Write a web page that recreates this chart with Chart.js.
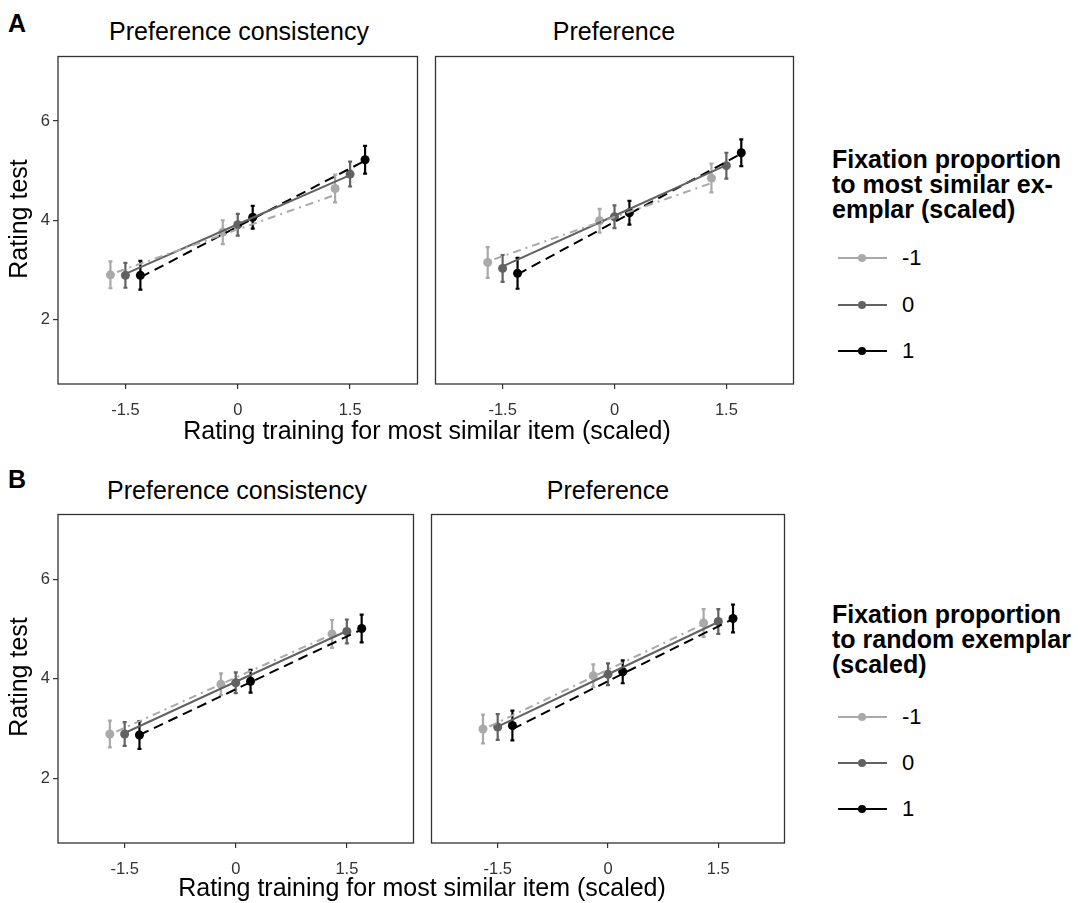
<!DOCTYPE html>
<html>
<head>
<meta charset="utf-8">
<script src="https://cdn.jsdelivr.net/npm/chart.js@4/dist/chart.umd.min.js"></script>
<style>
  body { margin: 0; background: #fff; width: 1080px; height: 903px; position: relative; overflow: hidden;
         font-family: "Liberation Sans", Arial, sans-serif; color: #000; }
  canvas { position: absolute; }
  .t { position: absolute; white-space: nowrap; line-height: 1; }
  .c { transform: translate(-50%, -50%); }
  .tag { font-weight: bold; font-size: 25px; }
  .facet { font-size: 25px; }
  .axis { font-size: 25px; }
  .ytitle { transform: translate(-50%, -50%) rotate(-90deg); }
  .ltitle { font-weight: bold; font-size: 25px; line-height: 25px; }
  .lab { font-size: 22px; transform: translateY(-50%); }
  .key { position: absolute; width: 49px; height: 2px; transform: translateY(-50%); }
  .dot { position: absolute; width: 8px; height: 8px; border-radius: 50%; transform: translate(-50%, -50%); }
</style>
</head>
<body>
<script>
// groups of the fixation variable
const groups = ["-1", "0", "1"];
const groupColors = ["#a9a9a9", "#626262", "#000000"];
const groupDash = [[2, 5, 8, 5], [], [10, 6]];
const xTicks = [-1.5, 0, 1.5];
const yTicks = [2, 4, 6];
const dodgeWidth = 0.2;

// A: most similar exemplar, preference consistency
const aConsMean = [[2.90, 3.76, 4.64], [2.89, 3.91, 4.93], [2.89, 4.06, 5.22]];
const aConsSE   = [[0.27, 0.24, 0.28], [0.25, 0.22, 0.25], [0.29, 0.23, 0.28]];
const aConsFit  = [[2.91, 3.71, 4.51], [2.92, 3.92, 4.91], [2.85, 4.03, 5.20]];
// A: most similar exemplar, preference
const aPrefMean = [[3.15, 3.99, 4.85], [3.03, 4.07, 5.10], [2.93, 4.15, 5.36]];
const aPrefSE   = [[0.31, 0.24, 0.29], [0.27, 0.23, 0.26], [0.31, 0.24, 0.27]];
const aPrefFit  = [[3.17, 3.96, 4.75], [3.07, 4.09, 5.11], [2.91, 4.13, 5.34]];
// B: random exemplar, preference consistency
const bConsMean = [[2.89, 3.89, 4.90], [2.89, 3.92, 4.95], [2.87, 3.95, 5.01]];
const bConsSE   = [[0.27, 0.22, 0.28], [0.24, 0.21, 0.24], [0.28, 0.23, 0.28]];
const bConsFit  = [[2.88, 3.89, 4.89], [2.91, 3.94, 4.96], [2.87, 3.93, 4.99]];
// B: random exemplar, preference
const bPrefMean = [[2.99, 4.06, 5.12], [3.03, 4.09, 5.15], [3.06, 4.14, 5.21]];
const bPrefSE   = [[0.29, 0.23, 0.28], [0.26, 0.22, 0.25], [0.30, 0.23, 0.28]];
const bPrefFit  = [[2.98, 4.04, 5.10], [3.04, 4.09, 5.14], [2.99, 4.10, 5.20]];

const facetTitles = ["Preference consistency", "Preference"];
const legendTitles = [
  ["Fixation proportion", "to most similar ex-", "emplar (scaled)"],
  ["Fixation proportion", "to random exemplar", "(scaled)"]
];
const xTitle = "Rating training for most similar item (scaled)";
const yTitle = "Rating test";

const FONT = "'Liberation Sans', Arial, sans-serif";

// error bars under the points, and the panel border
const panelExtras = {
  id: "panelExtras",
  beforeDatasetsDraw(chart) {
    const { ctx, scales: { x, y } } = chart;
    ctx.save();
    chart.data.datasets.forEach(ds => {
      if (!ds.se) return;
      ctx.strokeStyle = ds.backgroundColor;
      ctx.lineWidth = 2.2;
      ds.data.forEach((pt, i) => {
        const px = x.getPixelForValue(pt.x);
        const top = y.getPixelForValue(pt.y + ds.se[i]);
        const bot = y.getPixelForValue(pt.y - ds.se[i]);
        ctx.beginPath();
        ctx.moveTo(px, top); ctx.lineTo(px, bot);
        ctx.moveTo(px - 2, top); ctx.lineTo(px + 2, top);
        ctx.moveTo(px - 2, bot); ctx.lineTo(px + 2, bot);
        ctx.stroke();
      });
    });
    ctx.restore();
  },
  afterDraw(chart) {
    const { ctx, chartArea: a } = chart;
    ctx.save();
    ctx.strokeStyle = "#333333";
    ctx.lineWidth = 1.3;
    ctx.strokeRect(a.left, a.top, a.right - a.left, a.bottom - a.top);
    ctx.restore();
  }
};

function makePanel(box, showY, mean, se, fit) {
  const pad = 2, yW = showY ? 52 : 0, xH = 40;
  const w = box[2] - box[0], h = box[3] - box[1];
  const cv = document.createElement("canvas");
  cv.width = w + yW + 2 * pad;
  cv.height = h + xH + pad;
  cv.style.left = (box[0] - yW - pad) + "px";
  cv.style.top = (box[1] - pad) + "px";
  document.body.appendChild(cv);

  const datasets = [];
  groups.forEach((g, gi) => {
    const off = (gi - 1) * dodgeWidth;
    datasets.push({
      label: g + " fit",
      data: fit[gi].map((v, i) => ({ x: xTicks[i] + off, y: v })),
      showLine: true, pointRadius: 0, borderColor: groupColors[gi],
      borderWidth: 2, borderDash: groupDash[gi], order: 0
    });
    datasets.push({
      label: g,
      data: mean[gi].map((v, i) => ({ x: xTicks[i] + off, y: v })),
      showLine: false, pointRadius: 4.5, borderWidth: 0,
      backgroundColor: groupColors[gi], se: se[gi], order: 1
    });
  });

  const tickGrid = { drawOnChartArea: false, drawTicks: true, tickLength: 5, color: "#333333", lineWidth: 1.2 };
  return new Chart(cv, {
    type: "scatter",
    data: { datasets },
    plugins: [panelExtras],
    options: {
      responsive: false, animation: false,
      layout: { padding: { left: pad, top: pad, right: pad, bottom: 0 } },
      plugins: { legend: { display: false }, tooltip: { enabled: false } },
      scales: {
        x: {
          type: "linear", min: -2.4, max: 2.4,
          afterBuildTicks: s => { s.ticks = xTicks.map(v => ({ value: v })); },
          afterFit: s => { s.height = xH; s.paddingLeft = 0; s.paddingRight = 0; },
          grid: tickGrid, border: { display: false },
          ticks: { color: "#333333", font: { family: FONT, size: 16.5 }, padding: 12, maxRotation: 0,
                   autoSkip: false, callback: v => String(v) }
        },
        y: {
          type: "linear", min: 0.7, max: 7.3, display: showY,
          afterBuildTicks: s => { s.ticks = yTicks.map(v => ({ value: v })); },
          afterFit: s => { s.width = yW; s.paddingTop = 0; s.paddingBottom = 0; },
          grid: tickGrid, border: { display: false },
          ticks: { color: "#333333", font: { family: FONT, size: 16.5 }, padding: 3,
                   callback: v => String(v) }
        }
      }
    }
  });
}

function addText(cls, text, left, top) {
  const d = document.createElement("div");
  d.className = "t " + cls;
  d.textContent = text;
  d.style.left = left + "px";
  d.style.top = top + "px";
  document.body.appendChild(d);
  return d;
}

function addLegend(lines, titleTop, itemYs) {
  const t = document.createElement("div");
  t.className = "t ltitle";
  t.style.left = "832px";
  t.style.top = titleTop + "px";
  t.innerHTML = lines.join("<br>");
  document.body.appendChild(t);
  groups.forEach((g, gi) => {
    const k = document.createElement("div");
    k.className = "key";
    k.style.left = "838px"; k.style.top = itemYs[gi] + "px";
    k.style.background = groupColors[gi];
    document.body.appendChild(k);
    const d = document.createElement("div");
    d.className = "dot";
    d.style.left = "862px"; d.style.top = itemYs[gi] + "px";
    d.style.background = groupColors[gi];
    document.body.appendChild(d);
    addText("lab", g, 902, itemYs[gi]);
  });
}

// row A
makePanel([58, 54, 420, 384], true, aConsMean, aConsSE, aConsFit);
makePanel([433, 54, 796, 384], false, aPrefMean, aPrefSE, aPrefFit);
// row B
makePanel([58, 512, 416, 843], true, bConsMean, bConsSE, bConsFit);
makePanel([429, 512, 787, 843], false, bPrefMean, bPrefSE, bPrefFit);

addText("tag", "A", 8, 11);
addText("tag", "B", 8, 467);
addText("facet c", facetTitles[0], 239, 31);
addText("facet c", facetTitles[1], 614, 31);
addText("facet c", facetTitles[0], 237, 490);
addText("facet c", facetTitles[1], 608, 490);
addText("axis c", xTitle, 427, 430);
addText("axis c", xTitle, 422, 887);
addText("axis ytitle", yTitle, 18, 219);
addText("axis ytitle", yTitle, 18, 677);

addLegend(legendTitles[0], 147, [258, 305, 351]);
addLegend(legendTitles[1], 602, [717, 763, 809]);
</script>
</body>
</html>
